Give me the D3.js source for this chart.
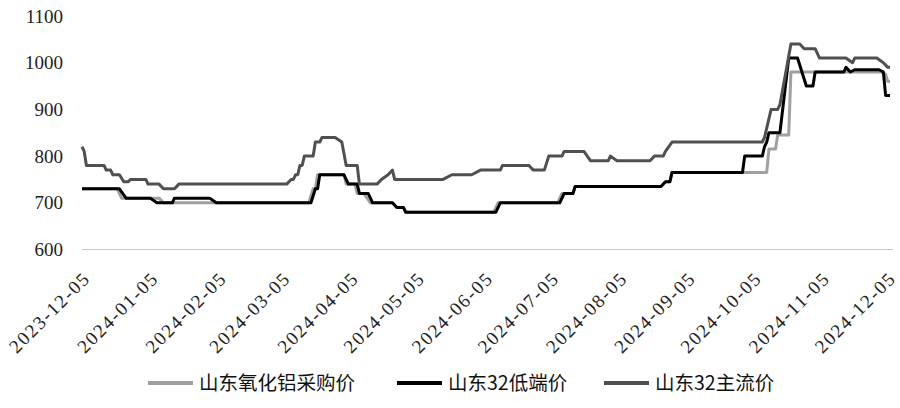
<!DOCTYPE html>
<html><head><meta charset="utf-8">
<script src="https://cdn.jsdelivr.net/npm/d3@7"></script>
<style>body{margin:0;background:#fff}</style>
</head><body>
<svg id="chart" width="900" height="408"></svg>
<script>
const seriesNames = ["山东氧化铝采购价", "山东32低端价", "山东32主流价"];
const seriesColors = ["#a0a0a0", "#000000", "#505050"];

const procurement = [["2023-12-05",730],["2023-12-21",730],["2023-12-23",710],["2024-01-09",710],["2024-01-11",700],["2024-03-17",700],["2024-03-19",730],["2024-03-20",730],["2024-03-21",760],["2024-04-02",760],["2024-04-03",740],["2024-04-07",740],["2024-04-08",720],["2024-04-11",720],["2024-04-14",700],["2024-04-24",700],["2024-04-26",690],["2024-04-29",690],["2024-04-30",680],["2024-06-09",680],["2024-06-11",700],["2024-07-08",700],["2024-07-10",720],["2024-07-15",720],["2024-07-16",735],["2024-08-24",735],["2024-08-26",745],["2024-08-28",745],["2024-08-29",765],["2024-10-11",765],["2024-10-12",815],["2024-10-15",815],["2024-10-16",845],["2024-10-21",845],["2024-10-22",980],["2024-12-02",980],["2024-12-04",975],["2024-12-05",960],["2024-12-06",960]];

const lowEnd = [["2023-12-05",730],["2023-12-22",730],["2023-12-25",710],["2024-01-05",710],["2024-01-08",700],["2024-01-15",700],["2024-01-16",710],["2024-02-01",710],["2024-02-04",700],["2024-03-18",700],["2024-03-20",730],["2024-03-21",730],["2024-03-22",760],["2024-04-02",760],["2024-04-04",740],["2024-04-08",740],["2024-04-09",720],["2024-04-13",720],["2024-04-15",700],["2024-04-24",700],["2024-04-26",690],["2024-04-29",690],["2024-04-30",680],["2024-06-10",680],["2024-06-12",700],["2024-07-09",700],["2024-07-11",720],["2024-07-15",720],["2024-07-16",735],["2024-08-24",735],["2024-08-26",745],["2024-08-28",745],["2024-08-29",765],["2024-09-30",765],["2024-10-01",800],["2024-10-09",800],["2024-10-10",820],["2024-10-11",830],["2024-10-12",850],["2024-10-17",850],["2024-10-21",1010],["2024-10-25",1010],["2024-10-29",950],["2024-11-01",950],["2024-11-02",980],["2024-11-15",980],["2024-11-16",990],["2024-11-18",980],["2024-11-20",985],["2024-12-01",985],["2024-12-03",980],["2024-12-04",930],["2024-12-06",930]];

const mainstream = [["2023-12-05",820],["2023-12-06",810],["2023-12-07",780],["2023-12-15",780],["2023-12-16",770],["2023-12-18",770],["2023-12-19",760],["2023-12-22",760],["2023-12-24",745],["2023-12-26",745],["2023-12-27",750],["2024-01-03",750],["2024-01-04",740],["2024-01-09",740],["2024-01-11",730],["2024-01-16",730],["2024-01-18",740],["2024-03-07",740],["2024-03-09",750],["2024-03-10",750],["2024-03-11",760],["2024-03-12",760],["2024-03-13",780],["2024-03-14",780],["2024-03-15",800],["2024-03-19",800],["2024-03-20",830],["2024-03-22",830],["2024-03-23",840],["2024-03-29",840],["2024-04-01",830],["2024-04-03",780],["2024-04-08",780],["2024-04-09",740],["2024-04-17",740],["2024-04-19",750],["2024-04-22",760],["2024-04-24",770],["2024-04-25",750],["2024-05-17",750],["2024-05-21",760],["2024-05-30",760],["2024-06-03",770],["2024-06-12",770],["2024-06-13",780],["2024-06-25",780],["2024-06-27",770],["2024-07-02",770],["2024-07-04",800],["2024-07-10",800],["2024-07-11",810],["2024-07-20",810],["2024-07-23",790],["2024-07-31",790],["2024-08-01",800],["2024-08-04",790],["2024-08-19",790],["2024-08-21",800],["2024-08-25",800],["2024-08-26",810],["2024-08-29",830],["2024-10-09",830],["2024-10-10",840],["2024-10-11",860],["2024-10-13",900],["2024-10-16",900],["2024-10-17",910],["2024-10-22",1040],["2024-10-26",1040],["2024-10-28",1030],["2024-11-02",1030],["2024-11-04",1010],["2024-11-16",1010],["2024-11-19",1000],["2024-11-20",1010],["2024-11-30",1010],["2024-12-03",1000],["2024-12-05",990],["2024-12-06",990]];

const xTickLabels = ["2023-12-05","2024-01-05","2024-02-05","2024-03-05","2024-04-05","2024-05-05","2024-06-05","2024-07-05","2024-08-05","2024-09-05","2024-10-05","2024-11-05","2024-12-05"];
const yTicks = [600, 700, 800, 900, 1000, 1100];

const serifStack = "'Liberation Serif', 'DejaVu Serif', 'Times New Roman', Tinos, serif";
const parse = d3.timeParse("%Y-%m-%d");
const svg = d3.select("#chart");

const x = d3.scaleTime()
  .domain([parse("2023-12-05"), parse("2024-12-06")])
  .range([82, 890]);
const y = d3.scaleLinear().domain([600, 1100]).range([249.5, 16]);

// baseline gridline
svg.append("line")
  .attr("x1", 82).attr("x2", 893)
  .attr("y1", y(600)).attr("y2", y(600))
  .attr("stroke", "#c8c8c8").attr("stroke-width", 1);

// y axis labels
const yAxis = d3.axisLeft(y).tickValues(yTicks).tickSize(0).tickPadding(0).tickFormat(d3.format("d"));
const gy = svg.append("g").attr("transform", "translate(63,0)").call(yAxis);
gy.attr("font-family", null).attr("font-size", null);
gy.select(".domain").remove();
gy.selectAll("text")
  .style("font-family", serifStack)
  .style("font-size", "19px")
  .attr("fill", "#222");

// x axis labels
const xAxis = d3.axisBottom(x).tickValues(xTickLabels.map(parse)).tickSize(0).tickFormat(d3.timeFormat("%Y-%m-%d"));
const gx = svg.append("g").call(xAxis);
gx.attr("font-family", null).attr("font-size", null);
gx.select(".domain").remove();
gx.selectAll(".tick text")
  .style("font-family", serifStack)
  .style("font-size", "19px")
  .attr("fill", "#222")
  .attr("text-anchor", "end")
  .attr("textLength", 104).attr("lengthAdjust", "spacing")
  .attr("x", 0).attr("y", 0).attr("dy", "0.35em")
  .attr("transform", "translate(3,276) rotate(-45)");

// lines
const line = d3.line().x(d => x(parse(d[0]))).y(d => y(d[1]));
[procurement, lowEnd, mainstream].forEach((s, i) => {
  svg.append("path").datum(s)
    .attr("fill", "none")
    .attr("stroke", seriesColors[i])
    .attr("stroke-width", 3)
    .attr("stroke-linejoin", "round")
    .attr("d", line);
});

// legend
const legendX = [148, 397, 604];
const lg = svg.append("g");
seriesNames.forEach((n, i) => {
  lg.append("line")
    .attr("x1", legendX[i]).attr("x2", legendX[i] + 45)
    .attr("y1", 383).attr("y2", 383)
    .attr("stroke", seriesColors[i]).attr("stroke-width", 4);
  lg.append("text")
    .attr("x", legendX[i] + 51).attr("y", 383).attr("dy", "0.35em")
    .style("font-family", "'Noto Sans CJK SC', sans-serif")
    .style("font-size", "19.5px").attr("fill", "#111")
    .text(n);
});
</script>
</body></html>
